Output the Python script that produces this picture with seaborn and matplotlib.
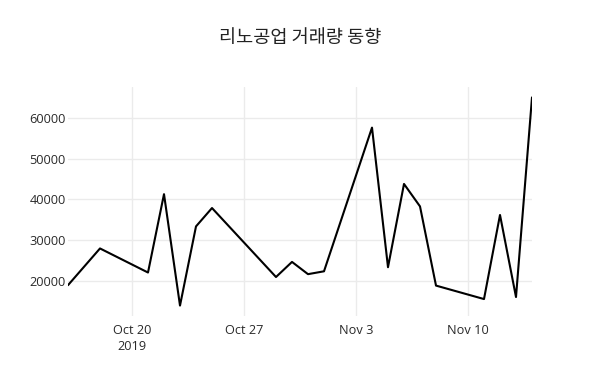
import matplotlib
matplotlib.use("Agg")
import matplotlib.pyplot as plt
import seaborn as sns
import pandas as pd

dates = ["2019-10-16", "2019-10-18", "2019-10-21", "2019-10-22", "2019-10-23",
         "2019-10-24", "2019-10-25", "2019-10-29", "2019-10-30", "2019-10-31",
         "2019-11-01", "2019-11-04", "2019-11-05", "2019-11-06", "2019-11-07",
         "2019-11-08", "2019-11-11", "2019-11-12", "2019-11-13", "2019-11-14"]
volume = [19000, 28000, 22100, 41300, 14000,
          33400, 37900, 21000, 24700, 21700,
          22400, 57600, 23400, 43800, 38300,
          18900, 15600, 36200, 16100, 65000]
tick_dates = ["2019-10-20", "2019-10-27", "2019-11-03", "2019-11-10"]
tick_labels = ["Oct 20\n2019", "Oct 27", "Nov 3", "Nov 10"]
y_ticks = [20000, 30000, 40000, 50000, 60000]
title = "리노공업 거래량 동향"

df = pd.DataFrame({"date": pd.to_datetime(dates), "volume": volume})

sns.set_theme(style="white")
plt.rcParams["font.family"] = ["Open Sans", "Noto Sans CJK KR", "DejaVu Sans"]

fig = plt.figure(figsize=(6.0, 3.86), dpi=100)
ax = fig.add_axes([68 / 600, 1 - 316 / 386, (532 - 68) / 600, (316 - 87) / 386])

sns.lineplot(data=df, x="date", y="volume", ax=ax, color="black", linewidth=1.5)

span = max(volume) - min(volume)
ax.set_ylim(min(volume) - 0.05 * span, max(volume) + 0.05 * span)
ax.set_xlim(df["date"].min(), df["date"].max())

ax.set_yticks(y_ticks)
ax.set_yticklabels([str(v) for v in y_ticks])
ax.set_xticks(pd.to_datetime(tick_dates))
ax.set_xticklabels(tick_labels, linespacing=1.3)

for s in ax.spines.values():
    s.set_visible(False)
ax.grid(True, color="#ebebeb", linewidth=1.0)
ax.set_axisbelow(True)
ax.tick_params(axis="both", length=0, labelsize=9.2, colors="#2a2a2a", pad=6)
ax.tick_params(axis="y", pad=1.5)
ax.set_xlabel("")
ax.set_ylabel("")

fig.text(0.5, 1 - 38 / 386, title, ha="center", va="center", fontsize=13.4,
         color="#222222", family=["Noto Sans CJK KR", "DejaVu Sans"])

fig.savefig("out.png", dpi=100, facecolor="white")
